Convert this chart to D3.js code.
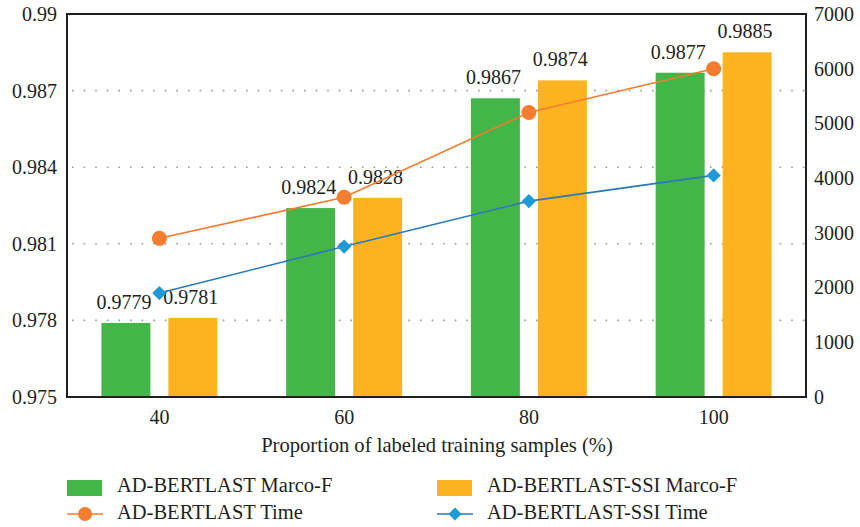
<!DOCTYPE html>
<html>
<head>
<meta charset="utf-8">
<script src="https://cdn.jsdelivr.net/npm/d3@7"></script>
<style>
  body { margin: 0; background: #fff; }
  text { font-family: "Liberation Serif", "DejaVu Serif", serif; fill: #231f20; }
</style>
</head>
<body>
<svg id="chart" width="860" height="527"></svg>
<script>
const categories = ["40", "60", "80", "100"];
const marcoF = [0.9779, 0.9824, 0.9867, 0.9877];
const ssiMarcoF = [0.9781, 0.9828, 0.9874, 0.9885];
const timeBase = [2900, 3650, 5200, 6000];
const timeSSI = [1900, 2750, 3580, 4050];
const leftTicks = [0.975, 0.978, 0.981, 0.984, 0.987, 0.99];
const rightTicks = [0, 1000, 2000, 3000, 4000, 5000, 6000, 7000];
const seriesNames = ["AD-BERTLAST Marco-F", "AD-BERTLAST-SSI Marco-F", "AD-BERTLAST Time", "AD-BERTLAST-SSI Time"];

const C = { green: "#43b549", yellow: "#fbb41f", orangeLine: "#f37b2c", orangeDot: "#f47d30", blueLine: "#2a78bd", blueDot: "#1e9ad6" };

const svg = d3.select("#chart");
const L = 67, R = 806, T = 14, B = 397;

const x = d3.scaleBand().domain(categories).range([L, R]).padding(0);
const yL = d3.scaleLinear().domain([0.975, 0.99]).range([B, T]);
const yR = d3.scaleLinear().domain([0, 7000]).range([B, T]);

// gridlines
svg.append("g").selectAll("line").data(leftTicks.slice(1, -1)).join("line")
  .attr("x1", L).attr("x2", R)
  .attr("y1", d => yL(d)).attr("y2", d => yL(d))
  .attr("stroke", "#9a9a9a").attr("stroke-width", 1.6)
  .attr("stroke-dasharray", "1.6,10").attr("stroke-dashoffset", -5);

// bars
const bw = x.bandwidth() * 0.265;
const gap = 9;
const g = svg.append("g");
g.selectAll(".b1").data(categories).join("rect")
  .attr("x", (d) => x(d) + x.bandwidth() / 2 - gap - bw)
  .attr("y", (d, i) => yL(marcoF[i]))
  .attr("width", bw)
  .attr("height", (d, i) => B - yL(marcoF[i]))
  .attr("fill", C.green);
g.selectAll(".b2").data(categories).join("rect")
  .attr("x", (d) => x(d) + x.bandwidth() / 2 + gap)
  .attr("y", (d, i) => yL(ssiMarcoF[i]))
  .attr("width", bw)
  .attr("height", (d, i) => B - yL(ssiMarcoF[i]))
  .attr("fill", C.yellow);

// value labels
g.selectAll(".l1").data(categories).join("text")
  .attr("x", d => x(d) + x.bandwidth() / 2 - gap - bw / 2 - 2)
  .attr("y", (d, i) => yL(marcoF[i]) - 14)
  .attr("text-anchor", "middle").attr("font-size", 20)
  .text((d, i) => marcoF[i].toFixed(4));
g.selectAll(".l2").data(categories).join("text")
  .attr("x", d => x(d) + x.bandwidth() / 2 + gap + bw / 2 - 2)
  .attr("y", (d, i) => yL(ssiMarcoF[i]) - 14)
  .attr("text-anchor", "middle").attr("font-size", 20)
  .text((d, i) => ssiMarcoF[i].toFixed(4));

// lines
const cx = d => x(d) + x.bandwidth() / 2;
const lineBase = d3.line().x((d, i) => cx(categories[i])).y(d => yR(d));
svg.append("path").datum(timeBase).attr("d", lineBase)
  .attr("fill", "none").attr("stroke", C.orangeLine).attr("stroke-width", 1.6);
svg.append("path").datum(timeSSI).attr("d", lineBase)
  .attr("fill", "none").attr("stroke", C.blueLine).attr("stroke-width", 1.6);

svg.append("g").selectAll("circle").data(timeBase).join("circle")
  .attr("cx", (d, i) => cx(categories[i])).attr("cy", d => yR(d))
  .attr("r", 7.5).attr("fill", C.orangeDot);
const diamond = d3.symbol().type(d3.symbolDiamond2).size(130);
svg.append("g").selectAll("path").data(timeSSI).join("path")
  .attr("transform", (d, i) => `translate(${cx(categories[i])},${yR(d)})`)
  .attr("d", diamond).attr("fill", C.blueDot);

// frame
svg.append("rect").attr("x", L).attr("y", T).attr("width", R - L).attr("height", B - T)
  .attr("fill", "none").attr("stroke", "#231f20").attr("stroke-width", 2);

// axes (labels only)
const axL = svg.append("g").attr("transform", `translate(${L},0)`)
  .call(d3.axisLeft(yL).tickValues(leftTicks).tickSize(0).tickPadding(10).tickFormat(d => String(+d.toFixed(3))));
const axR = svg.append("g").attr("transform", `translate(${R},0)`)
  .call(d3.axisRight(yR).tickValues(rightTicks).tickSize(0).tickPadding(8).tickFormat(d3.format("d")));
const axB = svg.append("g").attr("transform", `translate(0,${B})`)
  .call(d3.axisBottom(x).tickSize(0).tickPadding(13));
[axL, axR, axB].forEach(a => {
  a.select(".domain").remove();
  a.selectAll("text").attr("font-size", 20).attr("font-family", "Liberation Serif").attr("fill", "#231f20");
});

svg.append("text").attr("x", 437).attr("y", 452)
  .attr("text-anchor", "middle").attr("font-size", 20.6)
  .text("Proportion of labeled training samples (%)");

// legend
const leg = svg.append("g");
const lx = [67, 437];
leg.append("rect").attr("x", lx[0]).attr("y", 480).attr("width", 35).attr("height", 16).attr("fill", C.green);
leg.append("rect").attr("x", lx[1]).attr("y", 480).attr("width", 35).attr("height", 16).attr("fill", C.yellow);
leg.append("line").attr("x1", lx[0]).attr("x2", lx[0] + 36).attr("y1", 514).attr("y2", 514).attr("stroke", C.orangeLine).attr("stroke-width", 1.6);
leg.append("circle").attr("cx", lx[0] + 18).attr("cy", 514).attr("r", 7).attr("fill", C.orangeDot);
leg.append("line").attr("x1", lx[1]).attr("x2", lx[1] + 36).attr("y1", 514).attr("y2", 514).attr("stroke", C.blueLine).attr("stroke-width", 1.6);
leg.append("path").attr("transform", `translate(${lx[1] + 18},514)`).attr("d", d3.symbol().type(d3.symbolDiamond2).size(110)).attr("fill", C.blueDot);
const legPos = [[lx[0] + 50, 492], [lx[1] + 50, 492], [lx[0] + 50, 519], [lx[1] + 50, 519]];
leg.selectAll("text").data(seriesNames).join("text")
  .attr("x", (d, i) => legPos[i][0]).attr("y", (d, i) => legPos[i][1])
  .attr("font-size", 20.5).text(d => d);
</script>
</body>
</html>
